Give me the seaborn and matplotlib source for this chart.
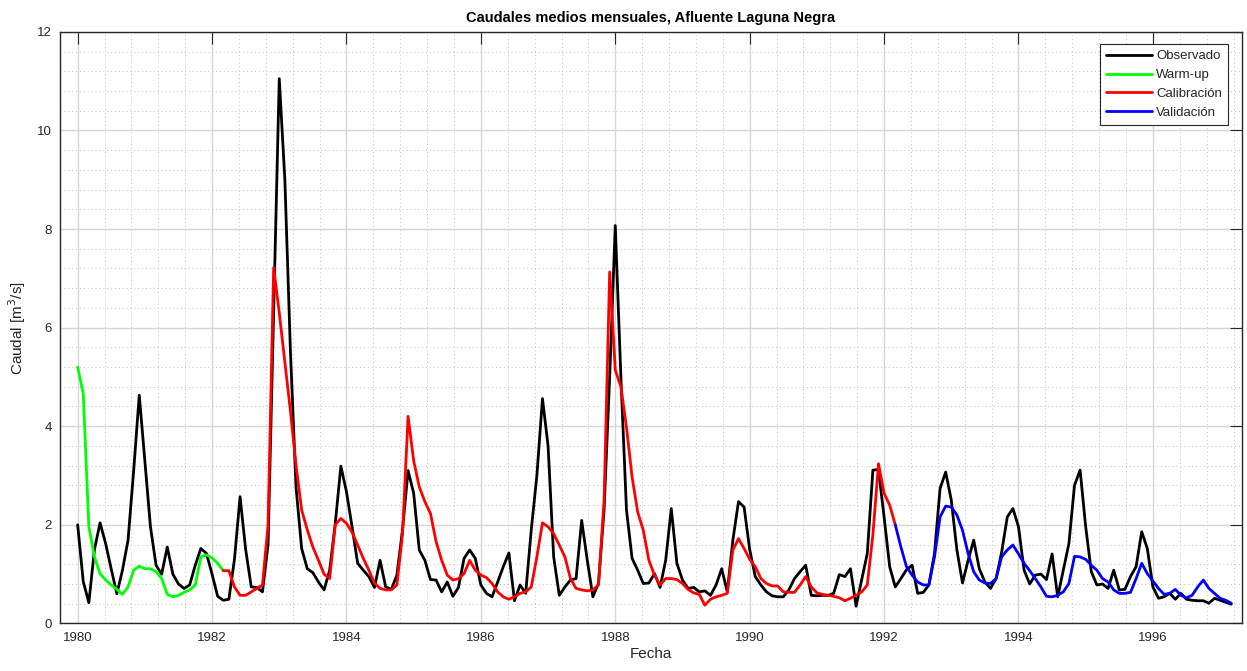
import numpy as np
import pandas as pd
import matplotlib
matplotlib.use("Agg")
import matplotlib.pyplot as plt
import seaborn as sns
from matplotlib.ticker import MultipleLocator, FixedLocator, FuncFormatter
from matplotlib.lines import Line2D

# ---------------- data (monthly, starting Jan 1980) ----------------
observado = [
    2.0, 0.85, 0.42, 1.5, 2.04, 1.62, 1.1, 0.6, 1.08, 1.69, 3.1, 4.63,
    3.3, 1.96, 1.18, 1.0, 1.55, 1.0, 0.8, 0.71, 0.78, 1.18, 1.52, 1.42,
    1.0, 0.55, 0.47, 0.49, 1.3, 2.57, 1.5, 0.74, 0.73, 0.64, 1.6, 6.3,
    11.05, 9.0, 5.5, 2.75, 1.52, 1.11, 1.03, 0.84, 0.68, 1.08, 2.03, 3.19,
    2.67, 1.96, 1.22, 1.08, 0.95, 0.73, 1.28, 0.74, 0.69, 0.98, 1.89, 3.1,
    2.64, 1.49, 1.28, 0.89, 0.88, 0.64, 0.84, 0.55, 0.73, 1.32, 1.49, 1.32,
    0.78, 0.61, 0.54, 0.84, 1.15, 1.43, 0.46, 0.78, 0.61, 1.9, 3.0, 4.56,
    3.6, 1.35, 0.57, 0.74, 0.88, 0.91, 2.09, 1.28, 0.54, 0.81, 2.3, 5.0,
    8.07, 5.0, 2.3, 1.32, 1.08, 0.81, 0.82, 1.01, 0.73, 1.28, 2.33, 1.22,
    0.88, 0.71, 0.73, 0.64, 0.66, 0.57, 0.78, 1.11, 0.64, 1.69, 2.47, 2.36,
    1.5, 0.95, 0.78, 0.64, 0.56, 0.54, 0.54, 0.68, 0.91, 1.05, 1.18, 0.57,
    0.56, 0.57, 0.57, 0.61, 0.99, 0.95, 1.11, 0.35, 0.88, 1.42, 3.11, 3.12,
    2.16, 1.15, 0.74, 0.91, 1.09, 1.18, 0.61, 0.63, 0.78, 1.42, 2.74, 3.07,
    2.5, 1.49, 0.82, 1.28, 1.69, 1.11, 0.84, 0.71, 0.91, 1.45, 2.16, 2.33,
    1.96, 1.08, 0.8, 0.98, 1.0, 0.89, 1.41, 0.54, 1.08, 1.62, 2.8, 3.11,
    1.96, 1.05, 0.78, 0.8, 0.71, 1.08, 0.68, 0.69, 0.95, 1.15, 1.86, 1.52,
    0.74, 0.51, 0.54, 0.61, 0.49, 0.61, 0.49, 0.47, 0.46, 0.46, 0.41, 0.51,
    0.47, 0.43, 0.39,
]

# Warm-up: months 0..26
warmup = [
    5.2, 4.66, 1.96, 1.35, 1.01, 0.88, 0.78, 0.69, 0.59, 0.74, 1.08, 1.16,
    1.11, 1.11, 1.05, 0.91, 0.59, 0.54, 0.57, 0.63, 0.68, 0.78, 1.35, 1.39,
    1.33, 1.22, 1.07,
]
warmup_start = 0

# Calibracion: months 26..146
calibracion = [
    1.07, 1.07, 0.74, 0.57, 0.57, 0.64, 0.71, 0.78, 2.0, 7.22,
    6.3, 5.3, 4.3, 3.2, 2.3, 1.9, 1.55, 1.28, 1.0, 0.91, 2.0, 2.13,
    2.03, 1.85, 1.59, 1.32, 1.08, 0.82, 0.71, 0.68, 0.68, 0.78, 1.8, 4.2,
    3.3, 2.77, 2.47, 2.23, 1.66, 1.28, 0.98, 0.88, 0.91, 1.01, 1.28, 1.08,
    0.98, 0.93, 0.81, 0.64, 0.54, 0.49, 0.54, 0.61, 0.64, 0.74, 1.35, 2.04,
    1.96, 1.82, 1.59, 1.35, 0.91, 0.71, 0.68, 0.66, 0.68, 0.78, 2.5, 7.13,
    5.14, 4.8, 3.98, 2.97, 2.26, 1.89, 1.28, 0.98, 0.78, 0.91, 0.91, 0.89,
    0.81, 0.69, 0.62, 0.59, 0.37, 0.49, 0.54, 0.57, 0.61, 1.49, 1.72, 1.52,
    1.3, 1.15, 0.91, 0.81, 0.76, 0.76, 0.64, 0.63, 0.63, 0.78, 0.95, 0.74,
    0.62, 0.59, 0.57, 0.55, 0.52, 0.46, 0.51, 0.57, 0.64, 0.78, 1.8, 3.24,
    2.64, 2.4, 2.0,
]
calibracion_start = 26

# Validacion: months 146..206
validacion = [
    2.0, 1.55, 1.15, 0.98, 0.84, 0.78, 0.78, 1.35, 2.16, 2.38,
    2.36, 2.2, 1.89, 1.42, 1.05, 0.88, 0.82, 0.81, 0.91, 1.35, 1.49, 1.59,
    1.41, 1.22, 1.07, 0.91, 0.74, 0.55, 0.54, 0.57, 0.64, 0.81, 1.36, 1.35,
    1.3, 1.18, 1.08, 0.91, 0.84, 0.68, 0.61, 0.61, 0.63, 0.91, 1.22, 1.01,
    0.86, 0.71, 0.59, 0.61, 0.69, 0.57, 0.52, 0.57, 0.74, 0.88, 0.71, 0.61,
    0.51, 0.47, 0.41,
]
validacion_start = 146

series_names = ["Observado", "Warm-up", "Calibración", "Validación"]
series_colors = ["#000000", "#00ff00", "#ff0000", "#0000ff"]
x_ticks = [1980, 1982, 1984, 1986, 1988, 1990, 1992, 1994, 1996]
y_ticks = [0, 2, 4, 6, 8, 10, 12]

# ---------------- build long table ----------------
def frame(values, start, name):
    m = np.arange(start, start + len(values))
    return pd.DataFrame({"Fecha": 1980 + m / 12.0, "Caudal": values, "Serie": name})

df = pd.concat([
    frame(observado, 0, series_names[0]),
    frame(warmup, warmup_start, series_names[1]),
    frame(calibracion, calibracion_start, series_names[2]),
    frame(validacion, validacion_start, series_names[3]),
], ignore_index=True)

# ---------------- plot ----------------
sns.set_theme(style="white")
plt.rcParams["font.family"] = ["Liberation Sans", "DejaVu Sans"]

fig = plt.figure(figsize=(12.47, 6.71), dpi=100)
ax = fig.add_axes([0.0481, 0.0709, 0.9479, 0.8817])

palette = dict(zip(series_names, series_colors))
sns.lineplot(data=df, x="Fecha", y="Caudal", hue="Serie", hue_order=series_names,
             palette=palette, linewidth=2.0, sort=False, estimator=None,
             legend=False, ax=ax)

ax.set_xlim(1979.737, 1997.326)
ax.set_ylim(0, 12)
ax.xaxis.set_major_locator(FixedLocator(x_ticks))
ax.xaxis.set_major_formatter(FuncFormatter(lambda v, p: f"{int(round(v))}"))
ax.yaxis.set_major_locator(FixedLocator(y_ticks))
ax.xaxis.set_minor_locator(MultipleLocator(0.4))
ax.yaxis.set_minor_locator(MultipleLocator(0.4))

ax.grid(True, which="major", color="#d6d6d6", linewidth=1.0, linestyle="-")
ax.grid(True, which="minor", color="#c4c4c4", linewidth=0.7, linestyle=(0, (1, 3)))
ax.set_axisbelow(True)

ax.tick_params(axis="both", which="major", direction="in", length=8.5, width=0.8,
               top=True, right=True, labelsize=9.5, colors="#262626", pad=6)
ax.tick_params(axis="both", which="minor", length=0, top=True, right=True)
for s in ax.spines.values():
    s.set_color("#262626")
    s.set_linewidth(1.0)
    s.set_visible(True)

ax.set_title("Caudales medios mensuales, Afluente Laguna Negra",
             fontsize=10.5, fontweight="bold", color="#000000", pad=7)
ax.set_xlabel("Fecha", fontsize=11, color="#262626", labelpad=2)
ax.set_ylabel("Caudal [m$^3$/s]", fontsize=11, color="#262626", labelpad=6)

handles = [Line2D([0], [0], color=c, linewidth=2.0) for c in series_colors]
leg = ax.legend(handles, series_names, loc="upper right", bbox_to_anchor=(0.988, 0.979),
                fontsize=9.5, frameon=True, fancybox=False, framealpha=1.0,
                edgecolor="#262626", handlelength=3.5, handletextpad=0.3,
                borderpad=0.45, labelspacing=0.5, borderaxespad=0.0)
leg.get_frame().set_linewidth(0.8)

fig.savefig("out.png", dpi=100)
